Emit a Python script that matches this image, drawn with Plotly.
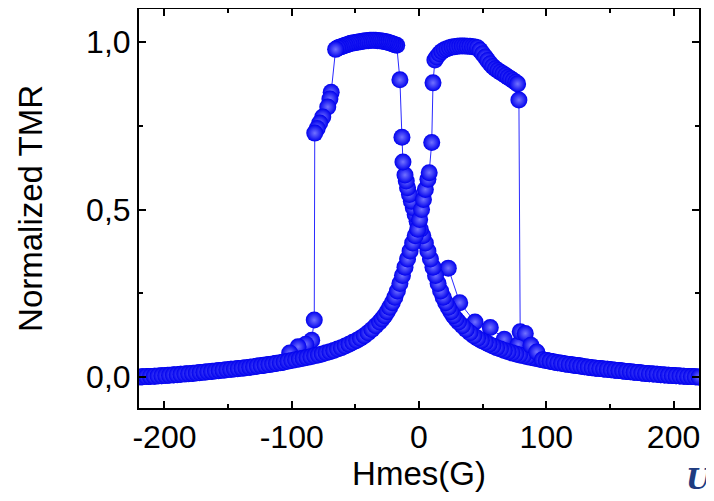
import plotly.graph_objects as go

# lower (background) branch, read on the right side: H from +220 down to +1
h_tail = [220, 217, 214, 211, 208, 205, 202, 199, 196, 193, 190, 187, 184, 181, 178, 175, 172, 169,
          166, 163, 160, 157, 154, 151, 148, 145, 142, 139, 136, 133, 130, 127, 124, 121, 118, 115,
          112, 109, 106, 103, 100, 97, 94, 91, 88, 85, 82, 79, 76, 73, 70, 67, 64, 61, 58, 55, 52,
          49, 46, 43, 40, 37, 34, 31, 29, 27, 25, 23, 21, 19, 17, 15, 13, 11, 9, 7, 5, 3, 1]
tmr_tail = [0.000, 0.0006, 0.0012, 0.0018, 0.0024, 0.003, 0.0036, 0.0043, 0.0052, 0.0061, 0.007,
            0.0079, 0.0088, 0.0097, 0.0108, 0.012, 0.0132, 0.0144, 0.0156, 0.0168, 0.018, 0.0192,
            0.0204, 0.0216, 0.0228, 0.024, 0.0252, 0.0265, 0.028, 0.0295, 0.031, 0.0325, 0.034,
            0.0355, 0.0372, 0.039, 0.0408, 0.0426, 0.0448, 0.047, 0.049, 0.0512, 0.0535, 0.0558,
            0.0582, 0.0607, 0.0633, 0.066, 0.069, 0.0722, 0.0755, 0.0793, 0.0833, 0.0875, 0.0925,
            0.098, 0.1035, 0.109, 0.1155, 0.1235, 0.132, 0.142, 0.153, 0.164, 0.173, 0.183, 0.195,
            0.208, 0.222, 0.238, 0.257, 0.279, 0.303, 0.328, 0.352, 0.376, 0.400, 0.422, 0.441]

# sweep down (+220 -> -220), after the right tail
h_down_rest = [-1.5, -3, -4.5, -6, -7.5, -9, -10, -11, -12.6, -13.4, -15,
               -17.5, -19, -20.5, -22, -23.5, -25, -26.5, -28, -29.5, -31, -32.5, -34, -35.5, -37,
               -38.5, -40, -41.5, -43, -44.5, -46, -47.5, -49, -50.5, -52, -53.5, -55, -56.5, -58,
               -59.5, -61, -62.5, -64, -65.5,
               -69, -70, -71.7, -75.6, -78, -80, -81.9,
               -82.3, -84.3, -89, -95, -101.6,
               -107.5, -112.5, -117.5, -122.5, -127.5, -132.5, -137.5, -142.5, -147.5, -152.5,
               -157.5, -162.5, -167.5, -172.5, -177.5, -182.5, -187.5, -192.5, -197.5, -202.5,
               -207.5, -212.5, -217.5]
tmr_down_rest = [0.465, 0.485, 0.505, 0.525, 0.545, 0.565, 0.585, 0.603, 0.642, 0.716, 0.887,
                 0.990, 0.992, 0.994, 0.996, 0.998, 1.000, 1.001, 1.002, 1.003, 1.004, 1.004, 1.005,
                 1.005, 1.005, 1.005, 1.004, 1.004, 1.003, 1.002, 1.001, 1.000, 0.999, 0.998, 0.997,
                 0.996, 0.994, 0.992, 0.990, 0.988, 0.986, 0.984, 0.982, 0.978,
                 0.850, 0.830, 0.806, 0.776, 0.758, 0.742, 0.728,
                 0.170, 0.110, 0.098, 0.090, 0.072,
                 0.0435, 0.0405, 0.0375, 0.0345, 0.032, 0.0295, 0.027, 0.025, 0.023, 0.021, 0.019,
                 0.017, 0.015, 0.013, 0.011, 0.0095, 0.008, 0.0065, 0.005, 0.0035, 0.0025, 0.0015,
                 0.0005]

# sweep up (-220 -> +220): left tail mirrors h_tail, then these points
h_up_rest = [0.5, 2, 3.5, 5, 7, 8, 10, 11,
             12.5, 14, 16, 18, 20, 22, 24, 26, 28, 30, 32, 34, 36, 38, 40, 42, 44, 46, 48, 50, 52,
             54, 56, 58, 60, 62, 64, 66, 68, 70, 72, 74, 76, 77.5,
             78.5, 79.5, 83.5, 88, 92.5]
tmr_up_rest = [0.470, 0.500, 0.530, 0.560, 0.590, 0.610, 0.700, 0.878,
               0.946, 0.955, 0.965, 0.972, 0.977, 0.980, 0.983, 0.985, 0.986, 0.987, 0.988, 0.988,
               0.988, 0.987, 0.987, 0.986, 0.985, 0.983, 0.975, 0.965, 0.955, 0.945, 0.935, 0.927,
               0.920, 0.915, 0.910, 0.905, 0.900, 0.895, 0.890, 0.885, 0.880, 0.875,
               0.827, 0.135, 0.130, 0.095, 0.075]

# sparse points above the right tail
h_minor = [23, 32, 44, 56, 67, 78]
tmr_minor = [0.325, 0.222, 0.164, 0.148, 0.113, 0.097]

x_ticks = [-200, -100, 0, 100, 200]
x_labels = ["-200", "-100", "0", "100", "200"]
y_ticks = [0.0, 0.5, 1.0]
y_labels = ["0,0", "0,5", "1,0"]

h_down = h_tail + h_down_rest
tmr_down = tmr_tail + tmr_down_rest
right_back = [(h, t) for h, t in zip(reversed(h_tail), reversed(tmr_tail)) if h >= 97]
h_up = [-h for h in h_tail] + h_up_rest + [h for h, t in right_back]
tmr_up = tmr_tail + tmr_up_rest + [t for h, t in right_back]

BLUE = "#0000ee"
FONT = "Liberation Sans, Arial, sans-serif"

fig = go.Figure()
for hx, ty in [(h_minor, tmr_minor), (h_down, tmr_down), (h_up, tmr_up)]:
    fig.add_trace(go.Scatter(
        x=hx,
        y=ty,
        mode="lines+markers",
        line=dict(color="#2a2aff", width=1),
        marker=dict(
            size=17,
            color=BLUE,
            line=dict(width=0),
            gradient=dict(type="radial", color="#7272ff"),
        ),
        showlegend=False,
    ))

axis_common = dict(
    showline=True,
    linecolor="black",
    linewidth=2,
    mirror="ticks",
    ticks="inside",
    ticklen=7,
    tickwidth=1.5,
    tickcolor="black",
    showgrid=False,
    zeroline=False,
    automargin=False,
    tickfont=dict(family=FONT, size=32, color="black"),
)

fig.update_xaxes(
    range=[-220, 220],
    tickvals=x_ticks,
    ticktext=x_labels,
    minor=dict(dtick=50, tick0=0, ticks="inside", ticklen=4, tickwidth=1.5, tickcolor="black"),
    title=dict(text="Hmes(G)", font=dict(family=FONT, size=33, color="black"), standoff=3),
    **axis_common
)
fig.update_yaxes(
    range=[-0.0925, 1.0985],
    tickvals=y_ticks,
    ticktext=y_labels,
    minor=dict(dtick=0.25, tick0=0, ticks="inside", ticklen=4, tickwidth=1.5, tickcolor="black"),
    title=dict(text="Normalized TMR", font=dict(family=FONT, size=33, color="black"), standoff=34),
    **axis_common
)

fig.add_annotation(
    text="<b><i>U</i></b>",
    xref="paper", yref="paper",
    x=1.026, y=-0.18,
    xanchor="right", yanchor="middle",
    showarrow=False,
    font=dict(family="DejaVu Serif", size=28, color="#1f3c80"),
)

fig.update_layout(
    width=706,
    height=493,
    margin=dict(l=131, r=15, t=1, b=93),
    paper_bgcolor="white",
    plot_bgcolor="white",
)

fig.write_html("out.html")
